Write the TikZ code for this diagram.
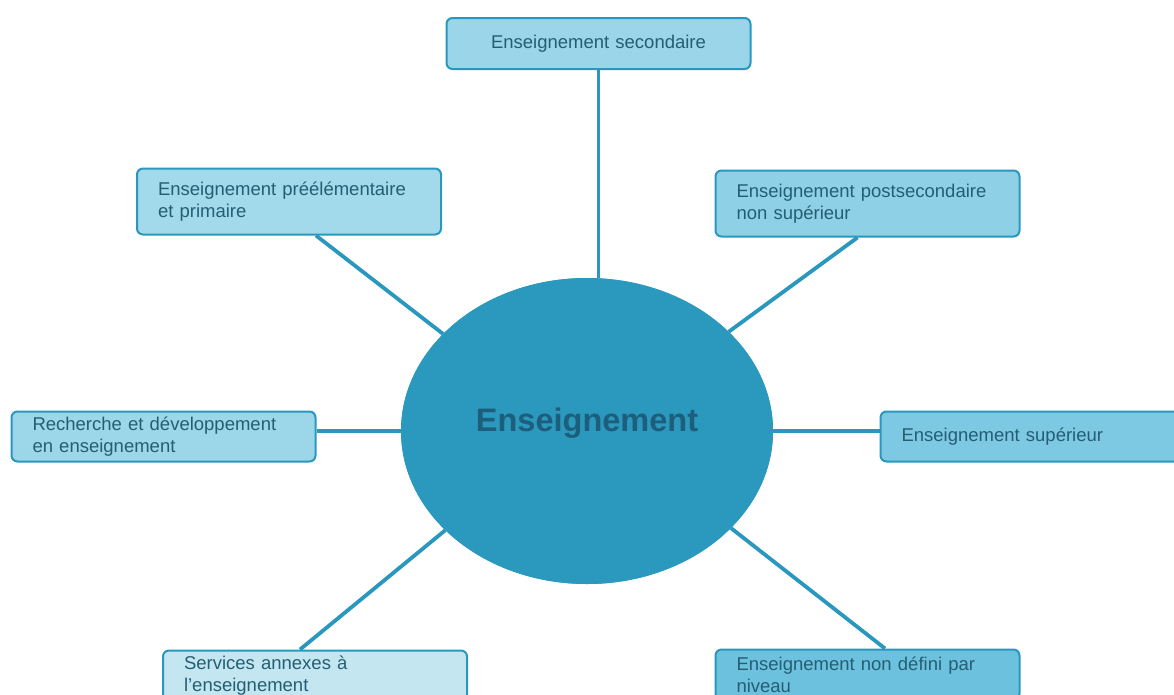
\documentclass[tikz,border=0pt]{standalone}
\usepackage{fontspec}
\setmainfont{Liberation Sans}
\usetikzlibrary{shapes.geometric}
\definecolor{edge}{HTML}{2A97BF}
\definecolor{ellfill}{HTML}{2B98BD}
\definecolor{ctext}{HTML}{1D5E7C}
\definecolor{btext}{HTML}{245E73}
\definecolor{fA}{HTML}{9BD5E9}
\definecolor{fB}{HTML}{A2D9EB}
\definecolor{fC}{HTML}{8ED1E7}
\definecolor{fD}{HTML}{9CD6E9}
\definecolor{fE}{HTML}{7DC8E2}
\definecolor{fF}{HTML}{C3E6F1}
\definecolor{fG}{HTML}{6CC2DE}
\tikzset{
  topicbox/.style={draw=edge, line width=2pt, rounded corners=6pt, rectangle,
    minimum width=304pt, text width=262pt, inner xsep=21pt, inner ysep=0pt,
    align=left, text=btext, font=\fontsize{18.5pt}{22pt}\selectfont},
  link/.style={draw=edge, line width=3.8pt},
  hub/.style={ellipse, fill=ellfill, minimum width=372pt, minimum height=306pt, inner sep=0pt},
}
\begin{document}
\begin{tikzpicture}[x=1pt,y=-1pt]
\useasboundingbox (0,0) rectangle (1174,694);
\clip (0,0) rectangle (1174,694);
\node[hub] (e) at (587,431) {};
\node[topicbox, fill=fA, minimum height=51pt, align=center] (top) at (598.5,43.5) {Enseignement secondaire};
\node[topicbox, fill=fB, minimum height=66pt] (b2) at (289,201.5) {Enseignement préélémentaire\\et primaire};
\node[topicbox, fill=fC, minimum height=66pt] (b3) at (867.5,203.5) {Enseignement postsecondaire\\non supérieur};
\node[topicbox, fill=fD, minimum height=50pt] (b4) at (163.5,436.5) {Recherche et développement\\en enseignement};
\node[topicbox, fill=fE, minimum height=50pt] (b5) at (1032.5,436.5) {Enseignement supérieur};
\node[topicbox, fill=fF, minimum height=50pt] (b6) at (315,675.5) {Services annexes à\\l’enseignement};
\node[topicbox, fill=fG, minimum height=50pt] (b7) at (867.5,674.5) {Enseignement non défini par\\niveau};
\draw[link] (top.south) -- (top.south |- e.north);
\draw[link] ([xshift=27pt]b2.south) -- (e.146.95);
\draw[link] ([xshift=-10pt]b3.south) -- (e.35.2);
\draw[link] (e.west -| b4.east) -- (e.west);
\draw[link] (e.east) -- (e.east -| b5.west);
\draw[link] ([xshift=-15pt]b6.north) -- (e.215.3);
\draw[link] ([xshift=17.5pt]b7.north) -- (e.326.6);
\node[hub] (e2) at (e.center) {};
\node[text=ctext, font=\bfseries\fontsize{32.5pt}{36pt}\selectfont] (elab) at ([yshift=8pt]e.center) {Enseignement};
\end{tikzpicture}
\end{document}
